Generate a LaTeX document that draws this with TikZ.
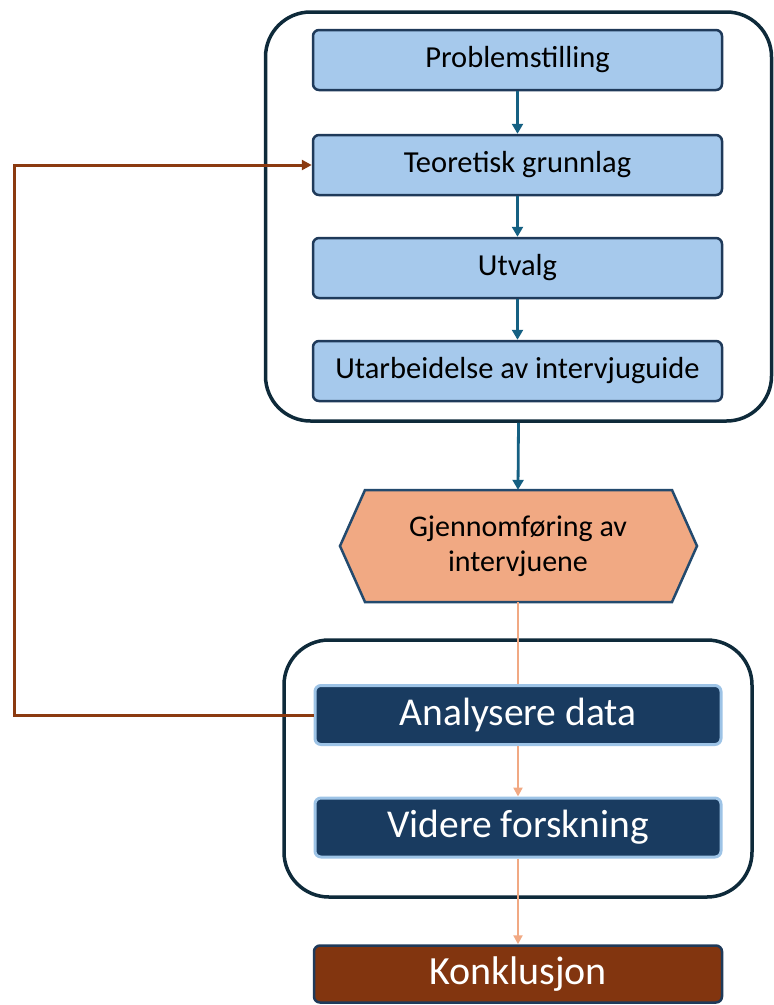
\documentclass[tikz,border=0pt]{standalone}
\usepackage{fontspec}
\setmainfont{Carlito}
\usetikzlibrary{arrows.meta}
\definecolor{lbfill}{HTML}{A6C9EC}
\definecolor{navy}{HTML}{1F3A5A}
\definecolor{contc}{HTML}{0E2A3A}
\definecolor{tealc}{HTML}{156082}
\definecolor{hexfill}{HTML}{F1A983}
\definecolor{hexline}{HTML}{234A6E}
\definecolor{orline}{HTML}{F1A983}
\definecolor{dfill}{HTML}{193B60}
\definecolor{glow}{HTML}{9DC3E6}
\definecolor{konfill}{HTML}{82350F}
\definecolor{fbc}{HTML}{8B3A10}
\begin{document}
\begin{tikzpicture}[x=1pt,y=-1pt,
  lbox/.style={draw=navy, line width=2.5pt, fill=lbfill, rounded corners=6pt,
    minimum width=409pt, minimum height=60pt, inner sep=0pt,
    font=\fontsize{30.5}{35}\selectfont},
  dbox/.style={draw=glow, line width=3pt, fill=dfill, text=white, rounded corners=6pt,
    minimum width=406pt, minimum height=59pt, inner sep=0pt,
    font=\fontsize{39.5}{45}\selectfont},
  cont/.style={draw=contc, line width=3.5pt, rounded corners=45pt, inner sep=0pt},
  tarr/.style={draw=tealc, line width=2.8pt, -{Triangle[length=10pt,width=11pt]}},
  oline/.style={draw=orline, line width=2.5pt},
  oarr/.style={oline, -{Triangle[length=9pt,width=9pt]}},
  fbarr/.style={draw=fbc, line width=3pt, -{Triangle[length=10pt,width=10pt]}}]
\useasboundingbox (0,0) rectangle (774,1005);
% containers
\node[cont, minimum width=506pt, minimum height=409pt] (c1) at (518.5,216.5) {};
\node[cont, minimum width=468pt, minimum height=257pt] (c2) at (518,768.5) {};
% light boxes
\node[lbox] (p1) at (517.5,60) {Problemstilling};
\node[lbox] (p2) at (517.5,165) {Teoretisk grunnlag};
\node[lbox] (p3) at (517.5,268) {Utvalg};
\node[lbox] (p4) at (517.5,371) {Utarbeidelse av intervjuguide};
% hexagon
\draw[hexline, line width=2.5pt, fill=hexfill, line join=miter]
  (340,546) -- (365,490) -- (672,490) -- (697,546) -- (672,602) -- (365,602) -- cycle;
\node[minimum width=307pt, minimum height=112pt, inner sep=0pt, align=center,
  font=\fontsize{30}{35}\selectfont] (hex) at (518,546) {Gjennomføring av\\intervjuene};
% dark boxes
\node[dbox] (an) at (518,715) {Analysere data};
\node[dbox] (vf) at (518,827.5) {Videre forskning};
\node[draw=navy, line width=2.5pt, fill=konfill, text=white, rounded corners=6pt,
  minimum width=408pt, minimum height=57pt, inner sep=0pt,
  font=\fontsize{40}{45}\selectfont] (kon) at (518,974) {Konklusjon};
% arrows
\draw[tarr] (p1) -- (p2);
\draw[tarr] (p2) -- (p3);
\draw[tarr] (p3) -- (p4);
\draw[tarr] (c1.south) -- (hex.north);
\draw[oline] (hex.south) -- (an.north);
\draw[oarr] (an) -- (vf);
\draw[oarr] (vf) -- (kon);
\coordinate (fb) at (14,715);
\draw[fbarr] (an.west) -- (fb) |- (p2.west);
\end{tikzpicture}
\end{document}
